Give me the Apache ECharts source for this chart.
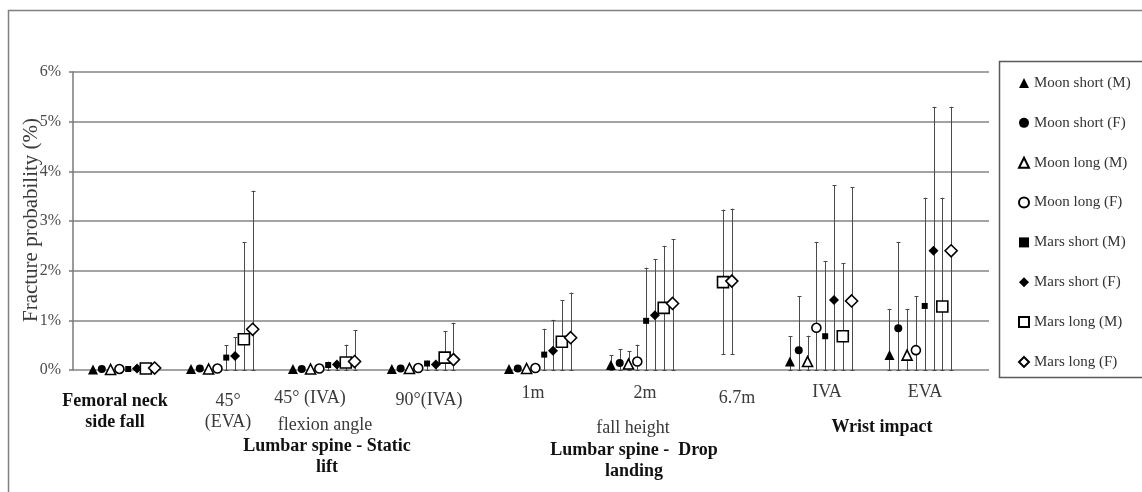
<!DOCTYPE html>
<html>
<head>
<meta charset="utf-8">
<script src="https://cdn.jsdelivr.net/npm/echarts@6/dist/echarts.min.js"></script>
<style>
html,body{margin:0;padding:0;background:#fff;}
#chart{width:1142px;height:492px;}
</style>
</head>
<body>
<div id="chart"></div>
<script>
// ---- data ----
const groups = ['Femoral neck side fall', '45° (EVA)', '45° (IVA)', '90° (IVA)', '1m', '2m', '6.7m', 'IVA', 'EVA'];
// x position (axis units) of the first marker slot of each group
const groupSlot0 = [2.27, 13.4, 24.97, 36.2, 49.5, 61.07, 67.8, 81.4, 92.7];
const seriesNames = ['Moon short (M)', 'Moon short (F)', 'Moon long (M)', 'Moon long (F)',
                     'Mars short (M)', 'Mars short (F)', 'Mars long (M)', 'Mars long (F)'];
const yTicks = [0, 1, 2, 3, 4, 5, 6];

// fracture probability (%) per series, one value per group
const moonShortM = [0.01, 0.02, 0.02, 0.02, 0.02, 0.10, null, 0.17, 0.30];
const moonShortF = [0.02, 0.03, 0.02, 0.03, 0.03, 0.14, null, 0.40, 0.84];
const moonLongM  = [0.01, 0.02, 0.02, 0.03, 0.03, 0.12, null, 0.17, 0.30];
const moonLongF  = [0.02, 0.03, 0.03, 0.04, 0.04, 0.17, null, 0.85, 0.40];
const marsShortM = [0.02, 0.25, 0.10, 0.13, 0.31, 0.99, null, 0.68, 1.29];
const marsShortF = [0.03, 0.28, 0.11, 0.11, 0.39, 1.10, null, 1.41, 2.40];
const marsLongM  = [0.03, 0.62, 0.15, 0.25, 0.57, 1.25, 1.77, 0.68, 1.28];
const marsLongF  = [0.04, 0.82, 0.17, 0.21, 0.65, 1.34, 1.79, 1.39, 2.40];

// upper bounds of the error bars (%)
const moonShortMHi = [null, null, null, null, null, 0.30, null, 0.68, 1.23];
const moonShortFHi = [null, null, null, null, null, 0.42, null, 1.49, 2.58];
const moonLongMHi  = [null, null, null, null, null, 0.38, null, 0.69, 1.23];
const moonLongFHi  = [null, null, null, null, null, 0.51, null, 2.58, 1.49];
const marsShortMHi = [null, 0.50, 0.17, 0.19, 0.83, 2.06, null, 2.19, 3.47];
const marsShortFHi = [null, 0.66, 0.14, 0.14, 1.01, 2.23, null, 3.72, 5.30];
const marsLongMHi  = [null, 2.57, 0.51, 0.78, 1.41, 2.50, 3.23, 2.15, 3.47];
const marsLongFHi  = [null, 3.61, 0.80, 0.95, 1.56, 2.63, 3.25, 3.68, 5.30];

// lower bounds of the error bars (%)
const moonShortMLo = [0, 0, 0, 0, 0, 0, null, 0, 0];
const moonShortFLo = [0, 0, 0, 0, 0, 0, null, 0, 0];
const moonLongMLo  = [0, 0, 0, 0, 0, 0, null, 0, 0];
const moonLongFLo  = [0, 0, 0, 0, 0, 0, null, 0, 0];
const marsShortMLo = [0, 0, 0, 0, 0, 0, null, 0, 0];
const marsShortFLo = [0, 0, 0, 0, 0, 0, null, 0, 0];
const marsLongMLo  = [0, 0, 0, 0, 0, 0, 0.32, 0, 0];
const marsLongFLo  = [0, 0, 0, 0, 0, 0, 0.32, 0, 0];

const values = [moonShortM, moonShortF, moonLongM, moonLongF, marsShortM, marsShortF, marsLongM, marsLongF];
const highs  = [moonShortMHi, moonShortFHi, moonLongMHi, moonLongFHi, marsShortMHi, marsShortFHi, marsLongMHi, marsLongFHi];
const lows   = [moonShortMLo, moonShortFLo, moonLongMLo, moonLongFLo, marsShortMLo, marsShortFLo, marsLongMLo, marsLongFLo];

// ---- styles ----
const markerStyles = [
  {symbol: 'triangle', size: 10, fill: '#000'},
  {symbol: 'circle',   size: 8,  fill: '#000'},
  {symbol: 'triangle', size: 10, fill: '#fff'},
  {symbol: 'circle',   size: 9,  fill: '#fff'},
  {symbol: 'rect',     size: 6,  fill: '#000'},
  {symbol: 'diamond',  size: 10, fill: '#000'},
  {symbol: 'rect',     size: 11, fill: '#fff'},
  {symbol: 'diamond',  size: 12, fill: '#fff'}
];

const serif = '"Liberation Serif", "DejaVu Serif", serif';

const scatterSeries = seriesNames.map((name, s) => ({
  name: name,
  type: 'scatter',
  symbol: markerStyles[s].symbol,
  symbolSize: markerStyles[s].size,
  itemStyle: {color: markerStyles[s].fill, borderColor: '#000', borderWidth: markerStyles[s].fill === '#fff' ? 1.6 : 0, opacity: 1},
  z: 5,
  data: values[s].map((v, g) => v == null ? null : [groupSlot0[g] + s, v]).filter(d => d)
}));

const errData = [];
seriesNames.forEach((name, s) => {
  values[s].forEach((v, g) => {
    if (v != null && highs[s][g] != null) errData.push([groupSlot0[g] + s, lows[s][g], highs[s][g]]);
  });
});

const errorSeries = {
  type: 'custom',
  name: 'error',
  z: 2,
  silent: true,
  encode: {x: 0, y: [1, 2]},
  data: errData,
  renderItem: function (params, api) {
    const x = api.value(0), lo = api.value(1), hi = api.value(2);
    const pHi = api.coord([x, hi]);
    const pLo = api.coord([x, lo]);
    const px = Math.round(pHi[0]) + 0.5;
    const cw = 2;
    const st = {stroke: '#4a4a4a', lineWidth: 1};
    return {type: 'group', children: [
      {type: 'line', shape: {x1: px, y1: pHi[1], x2: px, y2: pLo[1]}, style: st},
      {type: 'line', shape: {x1: px - cw, y1: Math.round(pHi[1]) + 0.5, x2: px + cw, y2: Math.round(pHi[1]) + 0.5}, style: st},
      {type: 'line', shape: {x1: px - cw, y1: Math.round(pLo[1]) + 0.5, x2: px + cw, y2: Math.round(pLo[1]) + 0.5}, style: st}
    ]};
  }
};

const grayText = '#3a3a3a';
const blackText = '#111';
function txt(x, y, text, bold, color) {
  return {type: 'text', x: x, y: y, silent: true, style: {
    text: text, fill: color || (bold ? blackText : grayText),
    font: (bold ? 'bold ' : '') + '18px ' + serif,
    align: 'center', verticalAlign: 'middle', lineHeight: 21
  }};
}

const chart = echarts.init(document.getElementById('chart'));
chart.setOption({
  animation: false,
  backgroundColor: '#fff',
  grid: {left: 73, right: 153, top: 72, bottom: 122},
  xAxis: {type: 'value', min: 0, max: 104, show: false},
  yAxis: {
    type: 'value', min: yTicks[0], max: yTicks[yTicks.length - 1], interval: 1,
    axisLine: {show: true, lineStyle: {color: '#7a7a7a', width: 1.5}},
    axisTick: {show: true, inside: false, length: 4, lineStyle: {color: '#7a7a7a', width: 1.5}},
    axisLabel: {formatter: '{value}%', fontFamily: serif, fontSize: 16, color: '#4a4a4a', margin: 12},
    splitLine: {show: true, lineStyle: {color: '#858585', width: 1.5}}
  },
  legend: {
    data: seriesNames,
    orient: 'vertical',
    left: 1018, top: 75, padding: 0,
    itemWidth: 10, itemHeight: 10, itemGap: 23.85,
    textStyle: {fontFamily: serif, fontSize: 15, color: '#333', lineHeight: 16},
    selectedMode: false
  },
  graphic: [
    {type: 'rect', silent: true, shape: {x: 8.5, y: 10.5, width: 1200, height: 600}, style: {fill: 'none', stroke: '#808080', lineWidth: 1.5}, z: -10},
    {type: 'rect', silent: true, shape: {x: 999.5, y: 61.5, width: 200, height: 316}, style: {fill: 'none', stroke: '#5a5a5a', lineWidth: 1.5}, z: -5},
    {type: 'text', x: 31, y: 220, rotation: Math.PI / 2, silent: true, z: -1,
     style: {text: 'Fracture probability (%)', fill: '#3a3a3a', font: '21px ' + serif, align: 'center', verticalAlign: 'middle'}},
    txt(115, 412, 'Femoral neck\nside fall', true),
    txt(228, 412, '45°\n(EVA)', false),
    txt(310, 398, '45° (IVA)', false),
    txt(429, 400, '90°(IVA)', false),
    txt(325, 425, 'flexion angle', false),
    txt(327, 457, 'Lumbar spine - Static\nlift', true),
    txt(533, 393, '1m', false),
    txt(645, 393, '2m', false),
    txt(737, 398, '6.7m', false),
    txt(633, 428, 'fall height', false),
    txt(634, 461, 'Lumbar spine -  Drop\nlanding', true),
    txt(827, 392, 'IVA', false),
    txt(925, 392, 'EVA', false),
    txt(882, 427, 'Wrist impact', true)
  ],
  series: [errorSeries].concat(scatterSeries)
});
</script>
</body>
</html>
